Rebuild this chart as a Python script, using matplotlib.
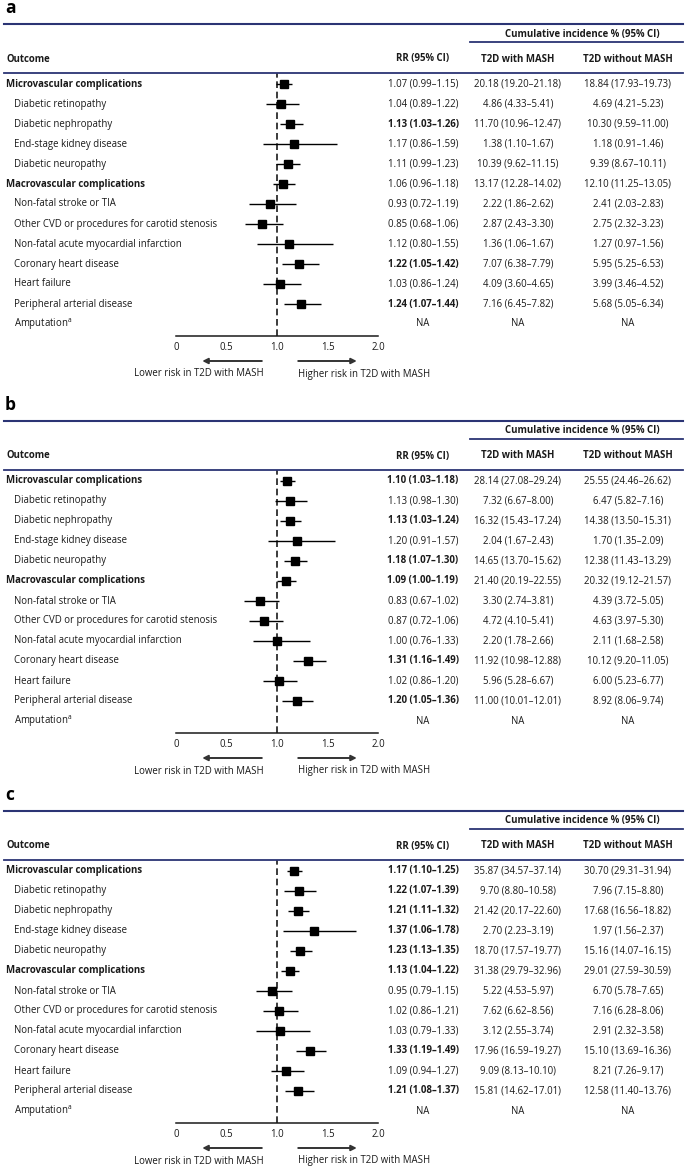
import matplotlib as mpl
mpl.use("Agg")
import matplotlib.pyplot as plt
import numpy as np

plt.rcParams['font.family'] = ['Open Sans', 'DejaVu Sans']
plt.rcParams['mathtext.fontset'] = 'custom'
plt.rcParams['mathtext.rm'] = 'Open Sans'

# ---- data ----
outcomes = ["Microvascular complications", "Diabetic retinopathy", "Diabetic nephropathy",
            "End-stage kidney disease", "Diabetic neuropathy", "Macrovascular complications",
            "Non-fatal stroke or TIA", "Other CVD or procedures for carotid stenosis",
            "Non-fatal acute myocardial infarction", "Coronary heart disease", "Heart failure",
            "Peripheral arterial disease", r"Amputation$^{\mathrm{a}}$"]
is_group = [True, False, False, False, False, True, False, False, False, False, False, False, False]

nan = np.nan
# panel a
rr_a = [1.07, 1.04, 1.13, 1.17, 1.11, 1.06, 0.93, 0.85, 1.12, 1.22, 1.03, 1.24, nan]
lo_a = [0.99, 0.89, 1.03, 0.86, 0.99, 0.96, 0.72, 0.68, 0.80, 1.05, 0.86, 1.07, nan]
hi_a = [1.15, 1.22, 1.26, 1.59, 1.23, 1.18, 1.19, 1.06, 1.55, 1.42, 1.24, 1.44, nan]
ci1_a = [(20.18, 19.20, 21.18), (4.86, 4.33, 5.41), (11.70, 10.96, 12.47), (1.38, 1.10, 1.67),
         (10.39, 9.62, 11.15), (13.17, 12.28, 14.02), (2.22, 1.86, 2.62), (2.87, 2.43, 3.30),
         (1.36, 1.06, 1.67), (7.07, 6.38, 7.79), (4.09, 3.60, 4.65), (7.16, 6.45, 7.82), None]
ci0_a = [(18.84, 17.93, 19.73), (4.69, 4.21, 5.23), (10.30, 9.59, 11.00), (1.18, 0.91, 1.46),
         (9.39, 8.67, 10.11), (12.10, 11.25, 13.05), (2.41, 2.03, 2.83), (2.75, 2.32, 3.23),
         (1.27, 0.97, 1.56), (5.95, 5.25, 6.53), (3.99, 3.46, 4.52), (5.68, 5.05, 6.34), None]
# panel b
rr_b = [1.10, 1.13, 1.13, 1.20, 1.18, 1.09, 0.83, 0.87, 1.00, 1.31, 1.02, 1.20, nan]
lo_b = [1.03, 0.98, 1.03, 0.91, 1.07, 1.00, 0.67, 0.72, 0.76, 1.16, 0.86, 1.05, nan]
hi_b = [1.18, 1.30, 1.24, 1.57, 1.30, 1.19, 1.02, 1.06, 1.33, 1.49, 1.20, 1.36, nan]
ci1_b = [(28.14, 27.08, 29.24), (7.32, 6.67, 8.00), (16.32, 15.43, 17.24), (2.04, 1.67, 2.43),
         (14.65, 13.70, 15.62), (21.40, 20.19, 22.55), (3.30, 2.74, 3.81), (4.72, 4.10, 5.41),
         (2.20, 1.78, 2.66), (11.92, 10.98, 12.88), (5.96, 5.28, 6.67), (11.00, 10.01, 12.01), None]
ci0_b = [(25.55, 24.46, 26.62), (6.47, 5.82, 7.16), (14.38, 13.50, 15.31), (1.70, 1.35, 2.09),
         (12.38, 11.43, 13.29), (20.32, 19.12, 21.57), (4.39, 3.72, 5.05), (4.63, 3.97, 5.30),
         (2.11, 1.68, 2.58), (10.12, 9.20, 11.05), (6.00, 5.23, 6.77), (8.92, 8.06, 9.74), None]
# panel c
rr_c = [1.17, 1.22, 1.21, 1.37, 1.23, 1.13, 0.95, 1.02, 1.03, 1.33, 1.09, 1.21, nan]
lo_c = [1.10, 1.07, 1.11, 1.06, 1.13, 1.04, 0.79, 0.86, 0.79, 1.19, 0.94, 1.08, nan]
hi_c = [1.25, 1.39, 1.32, 1.78, 1.35, 1.22, 1.15, 1.21, 1.33, 1.49, 1.27, 1.37, nan]
ci1_c = [(35.87, 34.57, 37.14), (9.70, 8.80, 10.58), (21.42, 20.17, 22.60), (2.70, 2.23, 3.19),
         (18.70, 17.57, 19.77), (31.38, 29.79, 32.96), (5.22, 4.53, 5.97), (7.62, 6.62, 8.56),
         (3.12, 2.55, 3.74), (17.96, 16.59, 19.27), (9.09, 8.13, 10.10), (15.81, 14.62, 17.01), None]
ci0_c = [(30.70, 29.31, 31.94), (7.96, 7.15, 8.80), (17.68, 16.56, 18.82), (1.97, 1.56, 2.37),
         (15.16, 14.07, 16.15), (29.01, 27.59, 30.59), (6.70, 5.78, 7.65), (7.16, 6.28, 8.06),
         (2.91, 2.32, 3.58), (15.10, 13.69, 16.36), (8.21, 7.26, 9.17), (12.58, 11.40, 13.76), None]

panels = [("a", rr_a, lo_a, hi_a, ci1_a, ci0_a),
          ("b", rr_b, lo_b, hi_b, ci1_b, ci0_b),
          ("c", rr_c, lo_c, hi_c, ci1_c, ci0_c)]
xticks = [0, 0.5, 1.0, 1.5, 2.0]
xticklabels = ["0", "0.5", "1.0", "1.5", "2.0"]

# ---- layout (pixels) ----
W, H = 685, 1168
offsets = [0, 397, 787]
NAVY = "#2b3474"
TXT = "#1a1a1a"
FS = 6.9

fig = plt.figure(figsize=(W / 100, H / 100), dpi=100)


def fx(px):
    return px / W


def fy(py):
    return 1 - py / H


def fmt_ci(t):
    if t is None:
        return "NA"
    return f"{t[0]:.2f} ({t[1]:.2f}\u2013{t[2]:.2f})"


for (letter, rr, lo, hi, ci1, ci0), off in zip(panels, offsets):
    n = len(outcomes)
    top_px, bot_px = 73 + off, 336 + off
    ax = fig.add_axes([fx(176), fy(bot_px), fx(378) - fx(176), (bot_px - top_px) / H])
    ax.set_xlim(0, 2)
    ax.set_ylim(n - 1 + 0.6, -0.55)
    ax.set_facecolor("none")
    for s in ["top", "right", "left"]:
        ax.spines[s].set_visible(False)
    ax.spines["bottom"].set_linewidth(1.1)
    ax.spines["bottom"].set_color(TXT)
    ax.set_yticks([])
    ax.set_xticks(xticks)
    ax.set_xticklabels(xticklabels, fontsize=FS, color=TXT)
    ax.tick_params(axis="x", which="major", length=0, pad=4.5)
    ax.set_xticks([0, 2], minor=True)
    ax.tick_params(axis="x", which="minor", direction="in", length=4, width=1.1, color=TXT)

    ax.axvline(1.0, color=TXT, lw=1.2, ls=(0, (4, 2.2)), zorder=1)

    rows = np.arange(n)
    rr_arr = np.array(rr)
    lo_arr = np.array(lo)
    hi_arr = np.array(hi)
    ok = ~np.isnan(rr_arr)
    ax.errorbar(rr_arr[ok], rows[ok],
                xerr=[rr_arr[ok] - lo_arr[ok], hi_arr[ok] - rr_arr[ok]],
                fmt="s", color="black", ms=5.6, elinewidth=1.0, capsize=0, zorder=3)

    # arrows under axis
    ytr = ax.get_xaxis_transform()
    ya = -25 / (bot_px - top_px)
    yt = -38 / (bot_px - top_px)
    ax.annotate("", xy=(0.26, ya), xytext=(0.85, ya), xycoords=ytr, textcoords=ytr,
                arrowprops=dict(arrowstyle="-|>", color="#333333", lw=1.4,
                                mutation_scale=8, shrinkA=0, shrinkB=0),
                annotation_clip=False)
    ax.annotate("", xy=(1.79, ya), xytext=(1.21, ya), xycoords=ytr, textcoords=ytr,
                arrowprops=dict(arrowstyle="-|>", color="#333333", lw=1.4,
                                mutation_scale=8, shrinkA=0, shrinkB=0),
                annotation_clip=False)
    ax.text(0.865, yt, "Lower risk in T2D with MASH", transform=ytr, ha="right",
            va="center", fontsize=FS, color=TXT)
    ax.text(1.21, yt, "Higher risk in T2D with MASH", transform=ytr, ha="left",
            va="center", fontsize=FS, color=TXT)

    # table text, x in figure fraction, y in row units
    tr = mpl.transforms.blended_transform_factory(fig.transFigure, ax.transData)
    for i in range(n):
        bold_row = is_group[i]
        ax.text(fx(6 if bold_row else 14), i, outcomes[i], transform=tr, ha="left",
                va="center", fontsize=FS, color=TXT,
                fontweight="bold" if bold_row else "normal")
        if np.isnan(rr[i]):
            rr_txt, sig = "NA", False
        else:
            rr_txt = f"{rr[i]:.2f} ({lo[i]:.2f}\u2013{hi[i]:.2f})"
            sig = lo[i] >= 1.0 or hi[i] < 1.0
        ax.text(fx(423), i, rr_txt, transform=tr, ha="center", va="center",
                fontsize=FS, color=TXT, fontweight="bold" if sig else "normal")
        ax.text(fx(518), i, fmt_ci(ci1[i]), transform=tr, ha="center", va="center",
                fontsize=FS, color=TXT)
        ax.text(fx(628), i, fmt_ci(ci0[i]), transform=tr, ha="center", va="center",
                fontsize=FS, color=TXT)

    # header
    fig.text(fx(5), fy(8 + off), letter, ha="left", va="center", fontsize=12.5,
             fontweight="bold", color="black")
    fig.add_artist(plt.Line2D([fx(4), fx(683)], [fy(24 + off)] * 2, color=NAVY, lw=1.5))
    fig.text(fx(582), fy(34 + off), "Cumulative incidence % (95% CI)", ha="center",
             va="center", fontsize=FS, fontweight="bold", color=TXT)
    fig.add_artist(plt.Line2D([fx(470), fx(683)], [fy(42 + off)] * 2, color=NAVY, lw=1.3))
    fig.text(fx(6), fy(59 + off), "Outcome", ha="left", va="center", fontsize=FS,
             fontweight="bold", color=TXT)
    fig.text(fx(423), fy(59 + off), "RR (95% CI)", ha="center", va="center", fontsize=FS,
             fontweight="bold", color=TXT)
    fig.text(fx(518), fy(59 + off), "T2D with MASH", ha="center", va="center", fontsize=FS,
             fontweight="bold", color=TXT)
    fig.text(fx(628), fy(59 + off), "T2D without MASH", ha="center", va="center",
             fontsize=FS, fontweight="bold", color=TXT)
    fig.add_artist(plt.Line2D([fx(4), fx(683)], [fy(73 + off)] * 2, color=NAVY, lw=1.3))

fig.savefig("out.png", dpi=100)
